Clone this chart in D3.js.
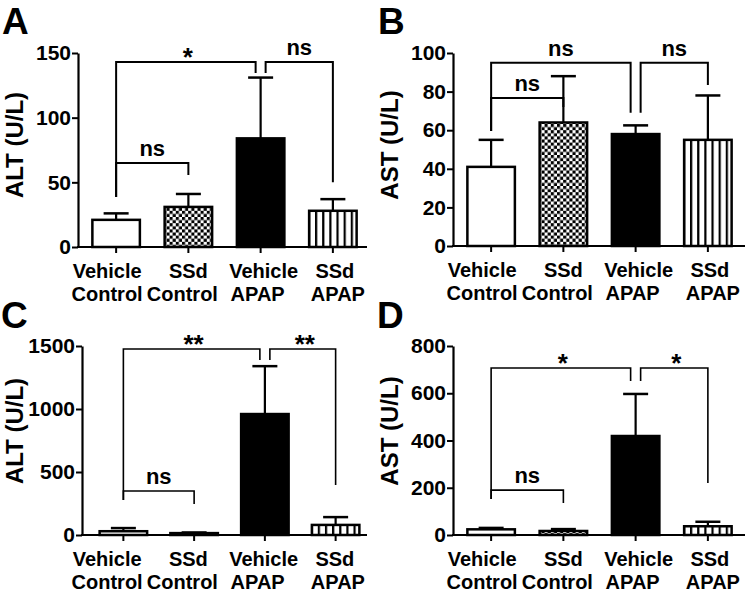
<!DOCTYPE html>
<html>
<head>
<meta charset="utf-8">
<script src="https://cdn.jsdelivr.net/npm/d3@7"></script>
<style>
  html, body { margin: 0; padding: 0; background: #fff; }
  svg { display: block; font-family: "Liberation Sans", Arial, Helvetica, sans-serif; font-weight: bold; }
</style>
</head>
<body>
<svg id="chart" width="750" height="594"></svg>
<script>
// ---------------- DATA ----------------
const catLine1 = ["Vehicle", "SSd", "Vehicle", "SSd"];
const catLine2 = ["Control", "Control", "APAP", "APAP"];
const categories = ["Vehicle Control", "SSd Control", "Vehicle APAP", "SSd APAP"];
const fills = ["white", "checker", "black", "stripes"];

// Panel A: ALT (U/L)
const altA = [21, 31, 84, 28];
const altAErr = [5, 10, 47, 9];
const ticksA = [0, 50, 100, 150];
// Panel B: AST (U/L)
const astB = [41, 64, 58, 55];
const astBErr = [14, 24, 4.5, 23];
const ticksB = [0, 20, 40, 60, 80, 100];
// Panel C: ALT (U/L)
const altC = [30, 15, 960, 80];
const altCErr = [25, 5, 380, 62];
const ticksC = [0, 500, 1000, 1500];
// Panel D: AST (U/L)
const astD = [24, 17, 419, 37];
const astDErr = [6, 8, 178, 19];
const ticksD = [0, 200, 400, 600, 800];

// significance brackets: [from index, to index, bracket level, left drop end, right drop end, label]
const sigA = [[0, 2, 143, 38.7, 134.5, "*"], [2, 3, 143, 134.5, 50, "ns"], [0, 1, 65, 38.7, 55.7, "ns"]];
const sigB = [[0, 2, 95, 59.6, 69, "ns"], [2, 3, 95, 69, 83.4, "ns"], [0, 1, 76.7, 59.6, 72, "ns"]];
const sigC = [[0, 2, 1476, 278, 1389, "**"], [2, 3, 1476, 1389, 397, "**"], [0, 1, 349, 278, 246, "ns"]];
const sigD = [[0, 2, 707, 152, 652, "*"], [2, 3, 707, 652, 220, "*"], [0, 1, 190, 152, 135, "ns"]];

// ---------------- LAYOUT ----------------
const line1Shift = [-9, 0, 3, 2];
const line2Shift = [-9, -6, -3, 5];
const panels = [
  { id: "A", letter: "A", letterX: 2, letterY: 34, yLabel: "ALT (U/L)", yLabelX: 23, yLabelY: 145,
    axisX: 78, axisEnd: 367, xRange: [80, 369], labelRange: [80, 369], yRange: [247, 53], domain: [0, 150],
    ticks: ticksA, values: altA, errs: altAErr, sig: sigA, bw: 2 },
  { id: "B", letter: "B", letterX: 378, letterY: 34, yLabel: "AST (U/L)", yLabelX: 398, yLabelY: 145,
    axisX: 453, axisEnd: 745, xRange: [455, 744], labelRange: [455, 744], yRange: [246, 53], domain: [0, 100],
    ticks: ticksB, values: astB, errs: astBErr, sig: sigB, bw: 2 },
  { id: "C", letter: "C", letterX: 1, letterY: 328, yLabel: "ALT (U/L)", yLabelX: 23, yLabelY: 431,
    axisX: 82, axisEnd: 367, xRange: [88, 371], labelRange: [80, 369], yRange: [535, 346], domain: [0, 1500],
    ticks: ticksC, values: altC, errs: altCErr, sig: sigC, bw: 1.6 },
  { id: "D", letter: "D", letterX: 377, letterY: 328, yLabel: "AST (U/L)", yLabelX: 398, yLabelY: 431,
    axisX: 453, axisEnd: 745, xRange: [455, 744], labelRange: [455, 744], yRange: [535, 346], domain: [0, 800],
    ticks: ticksD, values: astD, errs: astDErr, sig: sigD, bw: 1.6 }
];

const svg = d3.select("#chart");
const defs = svg.append("defs");
const BAR_W = 50, CAP_W = 25, GAP = 5;

panels.forEach(p => {
  const x = d3.scaleBand().domain(categories).range(p.xRange).padding(0);
  const xl = d3.scaleBand().domain(categories).range(p.labelRange).padding(0);
  const y = d3.scaleLinear().domain(p.domain).range(p.yRange);
  const g = svg.append("g");
  const cx = c => x(c) + x.bandwidth() / 2;
  const lx = c => xl(c) + xl.bandwidth() / 2;

  // patterns
  const chk = defs.append("pattern").attr("id", "chk" + p.id).attr("patternUnits", "userSpaceOnUse")
    .attr("x", cx(categories[1]) - BAR_W / 2).attr("y", 0).attr("width", 6.2).attr("height", 6.2);
  chk.append("rect").attr("width", 6.2).attr("height", 6.2).attr("fill", "white");
  chk.append("rect").attr("width", 3.1).attr("height", 3.1).attr("fill", "black");
  chk.append("rect").attr("x", 3.1).attr("y", 3.1).attr("width", 3.1).attr("height", 3.1).attr("fill", "black");
  const str = defs.append("pattern").attr("id", "str" + p.id).attr("patternUnits", "userSpaceOnUse")
    .attr("x", cx(categories[3]) - BAR_W / 2).attr("y", 0).attr("width", 50 / 7).attr("height", 10);
  str.append("rect").attr("width", 50 / 7).attr("height", 10).attr("fill", "white");
  str.append("rect").attr("width", 2.2).attr("height", 10).attr("fill", "black");

  const fillOf = i => fills[i] === "white" ? "white" : fills[i] === "black" ? "black"
    : fills[i] === "checker" ? `url(#chk${p.id})` : `url(#str${p.id})`;

  // error bars (upper)
  const eb = g.append("g").attr("stroke", "black").attr("stroke-width", 2.2).attr("fill", "none");
  categories.forEach((c, i) => {
    const top = y(p.values[i] + p.errs[i]);
    eb.append("line").attr("x1", cx(c)).attr("x2", cx(c)).attr("y1", y(p.values[i])).attr("y2", top);
    eb.append("line").attr("x1", cx(c) - CAP_W / 2).attr("x2", cx(c) + CAP_W / 2).attr("y1", top).attr("y2", top)
      .attr("stroke-width", 2.5);
  });

  // bars
  g.append("g").selectAll("rect").data(p.values).join("rect")
    .attr("x", (d, i) => cx(categories[i]) - BAR_W / 2 + 1.25)
    .attr("width", BAR_W - 2.5)
    .attr("y", d => y(d))
    .attr("height", d => Math.max(0, y(0) - y(d)))
    .attr("fill", (d, i) => fillOf(i))
    .attr("stroke", "black").attr("stroke-width", 2.5);

  // y axis
  const yAxis = d3.axisLeft(y).tickValues(p.ticks).tickFormat(d3.format("d"))
    .tickSize(6).tickPadding(1).tickSizeOuter(0);
  const ya = g.append("g").attr("transform", `translate(${p.axisX},0)`).call(yAxis);
  ya.select(".domain").attr("stroke", "black").attr("stroke-width", 2.2);
  ya.selectAll(".tick line").attr("stroke", "black").attr("stroke-width", 2);
  ya.selectAll(".tick text").attr("fill", "black").style("font-size", "21px").style("font-weight", "bold")
    .style("font-family", "'Liberation Sans', Arial, sans-serif");

  // x axis
  const xAxis = d3.axisBottom(x).tickSize(6).tickFormat("").tickSizeOuter(0);
  const xa = g.append("g").attr("transform", `translate(0,${y(0)})`).call(xAxis);
  xa.select(".domain").remove();
  xa.selectAll(".tick line").attr("stroke", "black").attr("stroke-width", 2);
  g.append("line").attr("x1", p.axisX - 1).attr("x2", p.axisEnd).attr("y1", y(0)).attr("y2", y(0))
    .attr("stroke", "black").attr("stroke-width", 2.2);

  // category labels
  categories.forEach((c, i) => {
    const t = g.append("text").attr("text-anchor", "middle").attr("font-size", 20).attr("fill", "black");
    t.append("tspan").attr("x", lx(c) + line1Shift[i]).attr("y", y(0) + 31).text(catLine1[i]);
    t.append("tspan").attr("x", lx(c) + line2Shift[i]).attr("y", y(0) + 54).text(catLine2[i]);
  });

  // y label
  g.append("text").attr("transform", `translate(${p.yLabelX},${p.yLabelY}) rotate(-90)`)
    .attr("text-anchor", "middle").attr("font-size", 24).attr("fill", "black").text(p.yLabel);

  // panel letter
  g.append("text").attr("x", p.letterX).attr("y", p.letterY).attr("font-size", 37).attr("fill", "black")
    .text(p.letter);

  // significance brackets
  const sg = g.append("g").attr("stroke", "black").attr("stroke-width", p.bw).attr("fill", "none");
  p.sig.forEach(s => {
    const [a, b, lev, dl, dr, lab] = s;
    let xa1 = cx(categories[a]), xb1 = cx(categories[b]);
    if (a === 2) xa1 += GAP;
    if (b === 2) xb1 -= GAP;
    const yl = y(lev);
    sg.append("path").attr("d", `M${xa1},${y(dl)}V${yl}H${xb1}V${y(dr)}`);
    const isStar = lab.indexOf("*") >= 0;
    g.append("text").attr("x", (xa1 + xb1) / 2 + (isStar ? 2 : 0)).attr("y", isStar ? yl + 4 : yl - 7)
      .attr("text-anchor", "middle").attr("font-size", isStar ? 26 : 22).attr("fill", "black").text(lab);
  });
});
</script>
</body>
</html>
